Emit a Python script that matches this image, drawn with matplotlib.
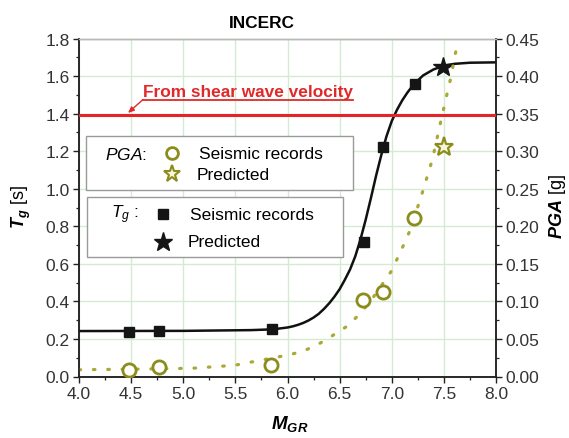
import matplotlib
matplotlib.use("Agg")
import matplotlib.pyplot as plt
from matplotlib.patches import Rectangle
from matplotlib.ticker import MultipleLocator, FormatStrFormatter

plt.rcParams['font.family'] = ['Liberation Sans', 'DejaVu Sans']
plt.rcParams['mathtext.fontset'] = 'custom'
plt.rcParams['mathtext.rm'] = 'Liberation Sans'
plt.rcParams['mathtext.it'] = 'Liberation Sans:italic'
plt.rcParams['mathtext.bf'] = 'Liberation Sans:bold'
plt.rcParams['mathtext.bfit'] = 'Liberation Sans:bold:italic'

# ---------------- data ----------------
title = "INCERC"
tg_rec_m = [4.48, 4.77, 5.85, 6.73, 6.92, 7.22]
tg_rec_v = [0.235, 0.244, 0.253, 0.715, 1.224, 1.558]
tg_pred_m = [7.49]
tg_pred_v = [1.647]
tg_fit_m = [4.0, 5.0, 5.65, 5.8, 5.9, 6.0, 6.05, 6.1, 6.15, 6.2, 6.25, 6.3, 6.35,
            6.4, 6.45, 6.5, 6.55, 6.6, 6.65, 6.7, 6.75, 6.8, 6.85, 6.9, 6.95,
            7.0, 7.05, 7.1, 7.15, 7.21, 7.3, 7.4, 7.5, 7.6, 7.75, 8.0]
tg_fit_v = [0.242, 0.243, 0.247, 0.250, 0.254, 0.261, 0.267, 0.275, 0.285, 0.298,
            0.314, 0.334, 0.36, 0.39, 0.425, 0.465, 0.515, 0.57, 0.64, 0.73,
            0.835, 0.95, 1.07, 1.18, 1.28, 1.36, 1.42, 1.47, 1.512, 1.555, 1.603,
            1.635, 1.655, 1.665, 1.671, 1.673]
pga_rec_m = [4.48, 4.77, 5.84, 6.72, 6.92, 7.21]
pga_rec_v = [0.009, 0.012, 0.0157, 0.102, 0.112, 0.211]
pga_pred_m = [7.50]
pga_pred_v = [0.306]
pga_fit_m = [4.0, 4.66, 5.09, 5.49, 5.64, 6.02, 6.16, 6.30, 6.43, 6.57, 6.70,
             6.81, 7.00, 7.06, 7.12, 7.18, 7.31, 7.35, 7.39, 7.45, 7.51, 7.57, 7.62]
pga_fit_v = [0.009, 0.010, 0.011, 0.0149, 0.0189, 0.029, 0.0343, 0.0433, 0.0543,
             0.0668, 0.0841, 0.103, 0.141, 0.159, 0.177, 0.196, 0.252, 0.271,
             0.289, 0.327, 0.364, 0.400, 0.437]
shear_tg = 1.39
shear_label = "From shear wave velocity"

W, H = 569, 439
fig = plt.figure(figsize=(W / 100, H / 100), dpi=100)
L, R, T, B = 79, 496, 39.5, 377.5
ax = fig.add_axes([L / W, 1 - B / H, (R - L) / W, (B - T) / H])
ax2 = ax.twinx()

def fp(x, y):
    return (x / W, 1 - y / H)

olive = '#8c8c1c'
olive_dot = '#a9a936'
grid_c = '#d3ebd3'
tick_fs = 12.5

# axes setup
ax.set_xlim(4.0, 8.0)
ax.set_ylim(0.0, 1.8)
ax2.set_ylim(0.0, 0.45)
ax.xaxis.set_major_locator(MultipleLocator(0.5))
ax.xaxis.set_minor_locator(MultipleLocator(0.25))
ax.yaxis.set_major_locator(MultipleLocator(0.2))
ax.yaxis.set_minor_locator(MultipleLocator(0.1))
ax2.yaxis.set_major_locator(MultipleLocator(0.05))
ax2.yaxis.set_minor_locator(MultipleLocator(0.025))
ax.xaxis.set_major_formatter(FormatStrFormatter('%.1f'))
ax.yaxis.set_major_formatter(FormatStrFormatter('%.1f'))
ax2.yaxis.set_major_formatter(FormatStrFormatter('%.2f'))
ax.grid(True, which='major', color=grid_c, lw=1.0)
ax.set_axisbelow(True)
for a in (ax, ax2):
    a.tick_params(which='major', direction='out', length=4.5, width=1.0,
                  labelsize=tick_fs, colors='#222222', labelcolor='#333333', pad=2)
    a.tick_params(which='minor', direction='out', length=2.5, width=0.9, colors='#222222')
    for s in a.spines.values():
        s.set_linewidth(1.1)
        s.set_color('#222222')
    a.spines['top'].set_color('#b8b8b8')
    a.spines['top'].set_linewidth(1.0)

# curves
ax.plot(tg_fit_m, tg_fit_v, color='#111111', lw=1.8, zorder=3,
        solid_joinstyle='round')
ax2.plot(pga_fit_m, pga_fit_v, color=olive_dot, lw=2.3, ls=(0, (0.5, 4.0)),
         dash_capstyle='round', zorder=2)
ax.plot(tg_rec_m, tg_rec_v, ls='none', marker='s', ms=7, color='#151515', zorder=4)
ax.plot(tg_pred_m, tg_pred_v, ls='none', marker='*', ms=15, color='#151515', zorder=4)
ax2.plot(pga_rec_m, pga_rec_v, ls='none', marker='o', ms=9.5, mfc='white',
         mec=olive, mew=2.0, zorder=4)
ax2.plot(pga_pred_m, pga_pred_v, ls='none', marker='*', ms=14, mfc='#f6f6dc',
         mec=olive, mew=1.6, zorder=4)
ax2.axhline(shear_tg / 4.0, color='#e5232b', lw=2.2, zorder=5)

# shear-wave annotation
red = '#e02a2a'
fig.text(*fp(143, 92), shear_label, color=red, fontweight='bold', fontsize=12.4,
         ha='left', va='center')
fig.add_artist(plt.Line2D([143 / W, 353 / W], [1 - 100.5 / H, 1 - 100.5 / H],
                          color=red, lw=1.3))
ax.annotate('', xy=fp(128, 114), xycoords='figure fraction',
            xytext=fp(143, 100.5), textcoords='figure fraction',
            arrowprops=dict(arrowstyle='-|>,head_length=0.35,head_width=0.15',
                            color=red, lw=1.0, shrinkA=0, shrinkB=0), zorder=6)

# legend boxes
for (x0, y0, x1, y1) in [(86, 137.3, 353, 190.7), (87.3, 198.3, 342.7, 258.3)]:
    fig.add_artist(Rectangle(fp(x0, y1), (x1 - x0) / W, (y1 - y0) / H,
                             transform=fig.transFigure, facecolor='white',
                             edgecolor='#9a9a9a', lw=1.0, zorder=7))
lfs = 12.5
fig.text(*fp(105, 155), r'$\mathit{PGA}$:', fontsize=lfs, ha='left', va='center', zorder=8)
fig.text(*fp(199, 155), 'Seismic records', fontsize=lfs, ha='left', va='center', zorder=8)
fig.text(*fp(197, 176), 'Predicted', fontsize=lfs, ha='left', va='center', zorder=8)
fig.text(*fp(111, 215), r'$\mathit{T}_{\mathit{g}}$ :', fontsize=lfs, ha='left', va='center', zorder=8)
fig.text(*fp(190, 215), 'Seismic records', fontsize=lfs, ha='left', va='center', zorder=8)
fig.text(*fp(188, 243), 'Predicted', fontsize=lfs, ha='left', va='center', zorder=8)
fig.add_artist(plt.Line2D([171.7 / W], [1 - 154 / H], marker='o', ms=8.5, mfc='white',
                          mec=olive, mew=2.0, zorder=8))
fig.add_artist(plt.Line2D([171.7 / W], [1 - 175 / H], marker='*', ms=12.5, mfc='#f6f6dc',
                          mec=olive, mew=1.5, zorder=8))
fig.add_artist(plt.Line2D([163 / W], [1 - 215 / H], marker='s', ms=6.5, color='#151515', zorder=8))
fig.add_artist(plt.Line2D([163 / W], [1 - 243 / H], marker='*', ms=14, color='#151515', zorder=8))

# titles / labels
fig.text(*fp(262, 24), title, fontweight='bold', fontsize=12.4, ha='center', va='center')
fig.text(*fp(21, 207), r'$\mathbfit{T}_{\mathbfit{g}}$ [s]', fontsize=13, rotation=90,
         ha='center', va='center')
fig.text(*fp(558, 207), r'$\mathbfit{PGA}$ [g]', fontsize=13, rotation=90,
         ha='center', va='center')
fig.text(*fp(290, 424), r'$\mathbfit{M}_{\mathbfit{GR}}$', fontsize=13.5,
         ha='center', va='center')

fig.savefig('out.png', dpi=100, facecolor='white')
